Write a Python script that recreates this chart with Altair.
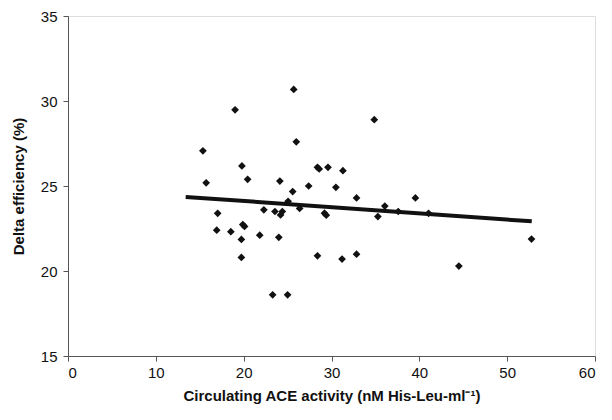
import altair as alt
import pandas as pd

ace_activity = [15.36, 15.73, 17.04, 16.93, 18.54, 19.02, 19.8, 20.45, 19.9, 20.1,
                19.74, 19.74, 21.83, 22.3, 23.3, 23.56, 24.12, 24.0, 24.2, 24.4,
                25.06, 25.0, 25.58, 25.7, 25.99, 26.37, 27.4, 28.4, 28.6, 28.4,
                29.6, 29.2, 29.4, 30.5, 31.3, 31.2, 32.85, 32.85, 34.87, 35.28,
                36.07, 37.6, 39.55, 41.05, 44.5, 52.77]
delta_eff = [27.07, 25.19, 23.39, 22.4, 22.31, 29.48, 26.18, 25.39, 22.73, 22.62,
             21.86, 20.8, 22.11, 23.6, 18.6, 23.5, 25.29, 21.98, 23.3, 23.5,
             24.1, 18.6, 24.67, 30.68, 27.6, 23.68, 25.0, 26.1, 26.0, 20.89,
             26.1, 23.4, 23.28, 24.92, 25.9, 20.7, 24.3, 20.99, 28.9, 23.2,
             23.82, 23.5, 24.3, 23.39, 20.29, 21.88]

trend_x = [13.4, 52.8]
trend_y = [24.36, 22.92]

pts = pd.DataFrame({"x": ace_activity, "y": delta_eff})
trend = pd.DataFrame({"x": trend_x, "y": trend_y})

xscale = alt.Scale(domain=[0, 60], nice=False, zero=False)
yscale = alt.Scale(domain=[15, 35], nice=False, zero=False)

xaxis = alt.Axis(values=[0, 10, 20, 30, 40, 50, 60], title="Circulating ACE activity (nM His-Leu-ml⁻¹)",
                 grid=False, domainColor="#555", tickColor="#555", tickSize=5,
                 labelFont="Liberation Sans", labelFontSize=15, labelColor="#111", labelPadding=4,
                 titleFont="Liberation Sans", titleFontSize=15, titleFontWeight="bold", titleColor="#111",
                 titlePadding=8)
yaxis = alt.Axis(values=[15, 20, 25, 30, 35], title="Delta efficiency (%)",
                 grid=False, domainColor="#555", tickColor="#555", tickSize=5,
                 labelFont="Liberation Sans", labelFontSize=15, labelColor="#111", labelPadding=6,
                 titleFont="Liberation Sans", titleFontSize=15, titleFontWeight="bold", titleColor="#111",
                 titlePadding=14)

points = alt.Chart(pts).mark_point(shape="diamond", filled=True, color="#111", size=60, opacity=1).encode(
    x=alt.X("x:Q", scale=xscale, axis=xaxis),
    y=alt.Y("y:Q", scale=yscale, axis=yaxis),
)

line = alt.Chart(trend).mark_line(color="#111", strokeWidth=4).encode(
    x=alt.X("x:Q", scale=xscale),
    y=alt.Y("y:Q", scale=yscale),
)

chart = alt.layer(points, line).properties(
    width=527, height=340,
    autosize=alt.AutoSizeParams(type="none"),
    padding={"left": 60, "top": 8, "right": 9, "bottom": 48},
).configure_view(stroke=None).configure(background="white")

chart.save("out.html", embed_options={"renderer": "svg", "actions": False})
